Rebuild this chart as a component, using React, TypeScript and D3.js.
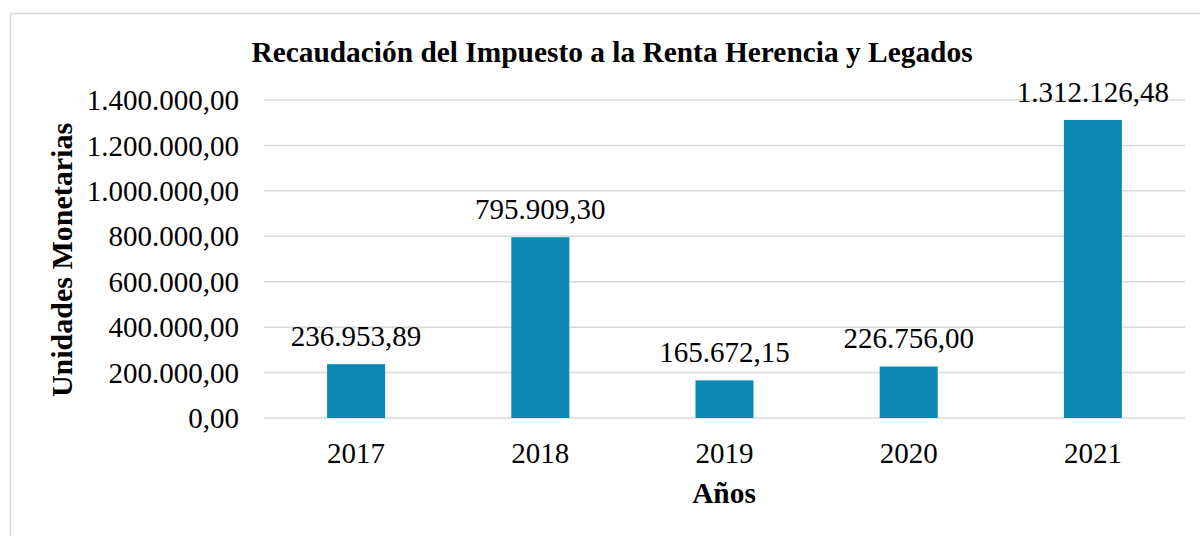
import React from "react";
import * as d3 from "d3";

const years = ["2017", "2018", "2019", "2020", "2021"];
const values = [236953.89, 795909.3, 165672.15, 226756.0, 1312126.48];
const yTicks = [0, 200000, 400000, 600000, 800000, 1000000, 1200000, 1400000];
const title = "Recaudación del Impuesto a la Renta Herencia y Legados";
const yTitle = "Unidades Monetarias";
const xTitle = "Años";

const fmt = (v: number) => {
  const [i, d] = v.toFixed(2).split(".");
  return i.replace(/\B(?=(\d{3})+(?!\d))/g, ".") + "," + d;
};

export default function App() {
  const W = 1200, H = 536;
  const left = 264, right = 1185, top = 100, bottom = 418;
  const x = d3.scaleBand<string>().domain(years).range([left, right]).paddingInner(0.685).paddingOuter(0.3425);
  const y = d3.scaleLinear().domain([0, 1400000]).range([bottom, top]);
  const font = "'Liberation Serif', 'Times New Roman', serif";
  return (
    <svg width={W} height={H} style={{ position: "absolute", left: 0, top: 0 }} fontFamily={font}>
      <rect x={0} y={0} width={W} height={H} fill="#fff" />
      <rect x={10.5} y={13.5} width={1204} height={560} fill="none" stroke="#d9d9d9" strokeWidth={1.5} />
      <text x={612} y={62} textAnchor="middle" fontSize={29.4} fontWeight="bold">{title}</text>
      {yTicks.map((t) => (
        <g key={t}>
          <line x1={left} x2={right} y1={y(t)} y2={y(t)} stroke="#d9d9d9" strokeWidth={1.5} />
          <text x={239} y={y(t)} dy="0.35em" textAnchor="end" fontSize={29}>{fmt(t)}</text>
        </g>
      ))}
      {years.map((yr, i) => (
        <g key={yr}>
          <rect x={x(yr)} y={y(values[i])} width={x.bandwidth()} height={y(0) - y(values[i])} fill="#0b89b3" />
          <text x={x(yr)! + x.bandwidth() / 2} y={y(values[i]) - 18} textAnchor="middle" fontSize={29}>{fmt(values[i])}</text>
          <text x={x(yr)! + x.bandwidth() / 2} y={463} textAnchor="middle" fontSize={29}>{yr}</text>
        </g>
      ))}
      <text x={724} y={503} textAnchor="middle" fontSize={29.4} fontWeight="bold">{xTitle}</text>
      <text transform={`translate(72,260) rotate(-90)`} textAnchor="middle" fontSize={30} fontWeight="bold">{yTitle}</text>
    </svg>
  );
}
